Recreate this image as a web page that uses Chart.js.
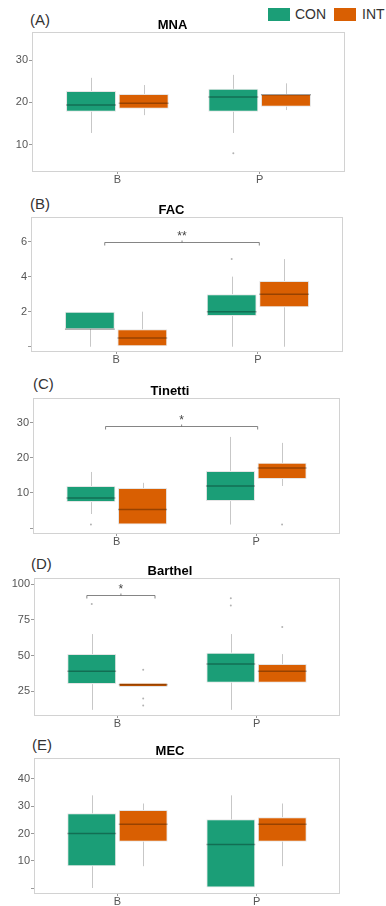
<!DOCTYPE html>
<html>
<head>
<meta charset="utf-8">
<script src="https://cdn.jsdelivr.net/npm/chart.js@4.4.0/dist/chart.umd.min.js"></script>
<style>
  body { margin: 0; background: #fff; width: 386px; height: 906px; position: relative; overflow: hidden;
         font-family: "Liberation Sans", Arial, sans-serif; }
  canvas { position: absolute; left: 0; }
  .tag { position: absolute; font-size: 15px; line-height: 15px; color: #333; }
  .key { position: absolute; top: 8px; width: 22px; height: 13px; }
  .keytxt { position: absolute; top: 7px; font-size: 14px; line-height: 15px; color: #333; }
</style>
</head>
<body>
<div class="key" style="left:268px;background:#1B9E77"></div><div class="keytxt" style="left:295px">CON</div>
<div class="key" style="left:334px;background:#D95F02"></div><div class="keytxt" style="left:362px">INT</div>
<script>
var groups = ["CON", "INT"];
var timepoints = ["B", "P"];
var colors = ["#1B9E77", "#D95F02"];

// box stats per timepoint: [min, q1, median, q3, max]
var mnaCon = [[12.8, 17.8, 19.4, 22.7, 25.8], [12.8, 17.8, 21.3, 23.2, 26.5]];
var mnaInt = [[17, 18.5, 19.8, 22, 24.1], [18.2, 19, 21.8, 22, 24.5]];
var mnaConOut = [[], [8]];
var mnaIntOut = [[], []];
var mnaTicks = [10, 20, 30];

var facCon = [[0, 1, 1, 2, 2], [0, 1.75, 2, 3, 4]];
var facInt = [[0, 0, 0.5, 1, 2], [0, 2.25, 3, 3.75, 5]];
var facConOut = [[], [5]];
var facIntOut = [[], []];
var facTicks = [0, 2, 4, 6];

var tinCon = [[4, 7.4, 8.6, 12, 16], [1, 7.7, 12, 16.3, 26]];
var tinInt = [[1, 1, 5.3, 11.4, 12.9], [12, 14, 17.1, 18.6, 24.3]];
var tinConOut = [[1], []];
var tinIntOut = [[], [1]];
var tinTicks = [0, 10, 20, 30];

var barCon = [[12, 30, 39, 51, 65], [12, 31, 44, 52, 65]];
var barInt = [[28, 28, 29.5, 31, 31], [31, 31, 39, 44, 51]];
var barConOut = [[86], [85, 90]];
var barIntOut = [[40, 20, 15], [70]];
var barTicks = [25, 50, 75, 100];

var mecCon = [[0, 8, 20, 27.4, 34], [0, 0, 16, 25.2, 34]];
var mecInt = [[8, 17, 23.4, 28.6, 31], [8, 17, 23.4, 26, 31]];
var mecConOut = [[], []];
var mecIntOut = [[], []];
var mecTicks = [0, 10, 20, 30, 40];

// significance brackets: [from x, to x, y, label]
var facSig = [[0.92, 2.01, 6, "**"]];
var tinSig = [[0.92, 2.01, 29, "*"]];
var barSig = [[0.78, 1.27, 92.4, "*"]];

var panels = [
  { tag: "(A)", title: "MNA", stats: [mnaCon, mnaInt], out: [mnaConOut, mnaIntOut], ticks: mnaTicks, ymin: 3.6, ymax: 36.6, sig: [],
    top: 32, bottom: 172, left: 32, right: 345, tagX: 30, tagY: 20 },
  { tag: "(B)", title: "FAC", stats: [facCon, facInt], out: [facConOut, facIntOut], ticks: facTicks, ymin: -0.3, ymax: 7.4, sig: facSig,
    top: 217, bottom: 352, left: 31, right: 343, tagX: 30, tagY: 204 },
  { tag: "(C)", title: "Tinetti", stats: [tinCon, tinInt], out: [tinConOut, tinIntOut], ticks: tinTicks, ymin: -1.7, ymax: 37.1, sig: tinSig,
    top: 398, bottom: 534, left: 33, right: 340, tagX: 33, tagY: 384 },
  { tag: "(D)", title: "Barthel", stats: [barCon, barInt], out: [barConOut, barIntOut], ticks: barTicks, ymin: 7.7, ymax: 104.2, sig: barSig,
    top: 578, bottom: 716, left: 34, right: 340, tagX: 31, tagY: 564 },
  { tag: "(E)", title: "MEC", stats: [mecCon, mecInt], out: [mecConOut, mecIntOut], ticks: mecTicks, ymin: -2.2, ymax: 47.7, sig: [],
    top: 758, bottom: 894, left: 34, right: 340, tagX: 32, tagY: 745 }
];

var FONT = "'Liberation Sans', Arial, sans-serif";

function boxParts(p) {
  return {
    id: "boxParts",
    beforeDatasetsDraw: function (chart) {
      var ctx = chart.ctx, ys = chart.scales.y;
      ctx.save();
      ctx.strokeStyle = "rgba(0,0,0,0.22)";
      ctx.lineWidth = 1;
      p.stats.forEach(function (s, gi) {
        var meta = chart.getDatasetMeta(gi);
        s.forEach(function (v, ti) {
          var x = Math.round(meta.data[ti].x) + 0.5;
          ctx.beginPath();
          ctx.moveTo(x, ys.getPixelForValue(v[0]));
          ctx.lineTo(x, ys.getPixelForValue(v[1]));
          ctx.moveTo(x, ys.getPixelForValue(v[3]));
          ctx.lineTo(x, ys.getPixelForValue(v[4]));
          ctx.stroke();
        });
      });
      ctx.restore();
    },
    afterDatasetsDraw: function (chart) {
      var ctx = chart.ctx, ys = chart.scales.y, xs = chart.scales.x, a = chart.chartArea;
      ctx.save();
      p.stats.forEach(function (s, gi) {
        var meta = chart.getDatasetMeta(gi);
        s.forEach(function (v, ti) {
          var el = meta.data[ti];
          var y = ys.getPixelForValue(v[2]);
          ctx.strokeStyle = "rgba(0,0,0,0.3)";
          ctx.lineWidth = 1.5;
          ctx.beginPath();
          ctx.moveTo(el.x - el.width / 2, y);
          ctx.lineTo(el.x + el.width / 2, y);
          ctx.stroke();
          ctx.fillStyle = "rgba(0,0,0,0.3)";
          p.out[gi][ti].forEach(function (o) {
            ctx.beginPath();
            ctx.arc(el.x, ys.getPixelForValue(o), 1, 0, Math.PI * 2);
            ctx.fill();
          });
        });
      });
      // brackets
      p.sig.forEach(function (b) {
        var x1 = xs.getPixelForValue(b[0]), x2 = xs.getPixelForValue(b[1]);
        var y = Math.round(ys.getPixelForValue(b[2])) + 0.5, xm = (x1 + x2) / 2;
        ctx.strokeStyle = "#666";
        ctx.lineWidth = 0.8;
        ctx.beginPath();
        ctx.moveTo(x1, y + 3); ctx.lineTo(x1, y); ctx.lineTo(x2, y); ctx.lineTo(x2, y + 3);
        ctx.moveTo(xm, y); ctx.lineTo(xm, y - 2);
        ctx.stroke();
        ctx.fillStyle = "#444";
        ctx.font = "12px " + FONT;
        ctx.textAlign = "center";
        ctx.textBaseline = "alphabetic";
        ctx.fillText(b[3], xm, y - 3);
      });
      // panel border
      ctx.strokeStyle = "#d2d2d2";
      ctx.lineWidth = 1;
      ctx.strokeRect(Math.round(a.left) + 0.5, Math.round(a.top) + 0.5, Math.round(a.right - a.left) - 1, Math.round(a.bottom - a.top) - 1);
      ctx.restore();
    }
  };
}

panels.forEach(function (p) {
  var tag = document.createElement("div");
  tag.className = "tag";
  tag.textContent = p.tag;
  tag.style.left = p.tagX + "px";
  tag.style.top = (p.tagY - 8) + "px";
  document.body.appendChild(tag);

  var cTop = p.top - 20, cH = p.bottom + 14 - cTop;
  var canvas = document.createElement("canvas");
  canvas.width = 386; canvas.height = cH;
  canvas.style.top = cTop + "px";
  canvas.style.width = "386px"; canvas.style.height = cH + "px";
  document.body.appendChild(canvas);

  new Chart(canvas, {
    type: "bar",
    data: {
      datasets: groups.map(function (g, gi) {
        return {
          label: g,
          data: timepoints.map(function (t, ti) {
            return { x: ti + 1, y: [p.stats[gi][ti][1], p.stats[gi][ti][3]] };
          }),
          backgroundColor: colors[gi],
          borderColor: "rgba(0,0,0,0.1)",
          borderWidth: 1,
          borderSkipped: false,
          categoryPercentage: 0.74,
          barPercentage: 0.95
        };
      })
    },
    options: {
      responsive: false,
      animation: false,
      layout: { padding: { top: 7, right: 386 - p.right, bottom: 0, left: 0 } },
      plugins: {
        legend: { display: false },
        tooltip: { enabled: false },
        title: { display: true, text: p.title, color: "#000",
                 font: { size: 13, weight: "bold", lineHeight: 1, family: FONT },
                 padding: { top: 0, bottom: 0 } }
      },
      scales: {
        x: {
          type: "linear", min: 0.4, max: 2.6, offset: false,
          afterBuildTicks: function (s) { s.ticks = timepoints.map(function (t, i) { return { value: i + 1 }; }); },
          afterFit: function (s) { s.height = 14; },
          ticks: { callback: function (v) { return timepoints[v - 1]; }, color: "#555",
                   font: { size: 11, family: FONT }, padding: -1, maxRotation: 0, autoSkip: false },
          grid: { drawOnChartArea: false, tickLength: 2, color: "#999", offset: false },
          border: { display: false }
        },
        y: {
          min: p.ymin, max: p.ymax,
          afterBuildTicks: function (s) { s.ticks = p.ticks.map(function (v) { return { value: v }; }); },
          afterFit: function (s) { s.width = p.left; },
          ticks: { callback: function (v) { return v === 0 ? "" : v; }, color: "#555",
                   font: { size: 11, family: FONT }, padding: 1 },
          grid: { drawOnChartArea: false, tickLength: 3, color: "#999" },
          border: { display: false }
        }
      }
    },
    plugins: [boxParts(p)]
  });
});
</script>
</body>
</html>
